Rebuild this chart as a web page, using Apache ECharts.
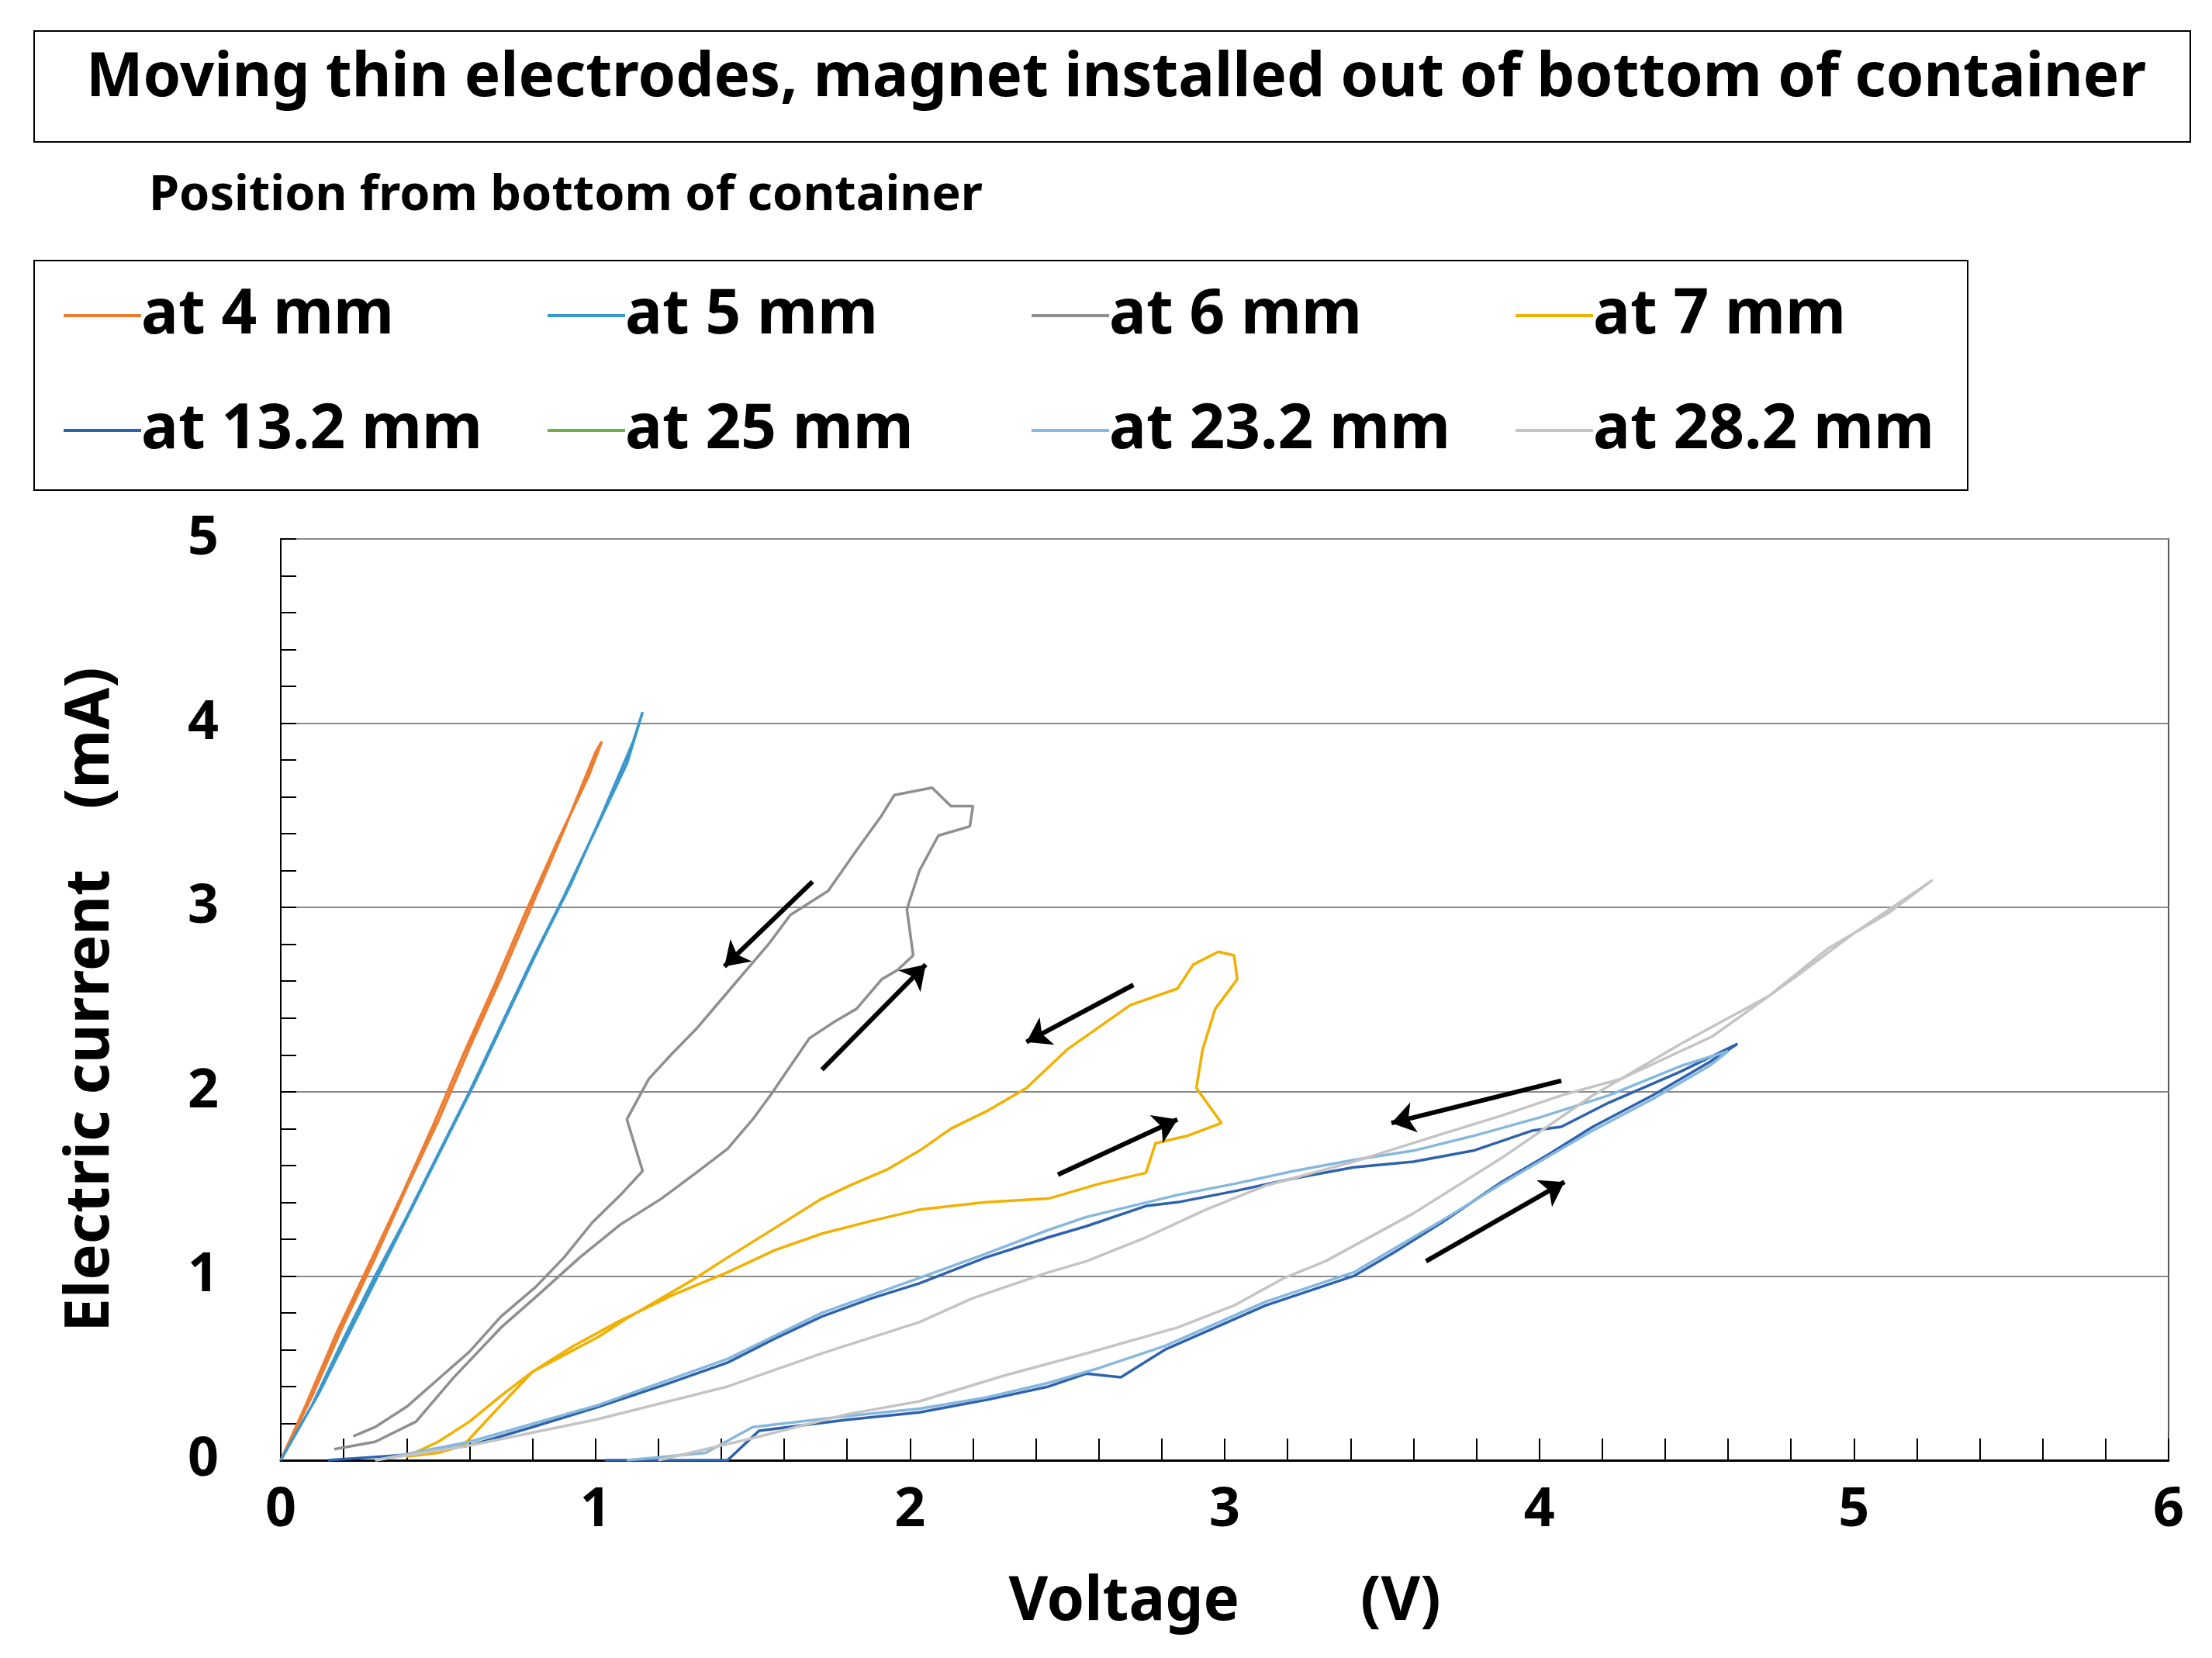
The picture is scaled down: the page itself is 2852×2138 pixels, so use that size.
<!DOCTYPE html>
<html>
<head>
<meta charset="utf-8">
<script src="https://cdn.jsdelivr.net/npm/echarts@6/dist/echarts.min.js"></script>
<style>html,body{margin:0;padding:0;background:#fff}#chart{width:2852px;height:2138px}</style>
</head>
<body>
<div id="chart"></div>
<script>
// series names
var names = ['at 4 mm', 'at 5 mm', 'at 6 mm', 'at 7 mm', 'at 13.2 mm', 'at 25 mm', 'at 23.2 mm', 'at 28.2 mm'];
var colors = ['#ED7D31', '#3B98CC', '#8F8F8F', '#F2B000', '#2E62AE', '#70AD47', '#86B8DE', '#C4C4C4'];

// [voltage V, current mA]
var at4 = [[0,0],[0.1,0.35],[0.2,0.74],[0.3,1.1],[0.4,1.48],[0.5,1.84],[0.6,2.24],[0.7,2.62],[0.8,3.02],[0.9,3.42],[1.0,3.84],[1.02,3.9],
  [0.98,3.72],[0.88,3.36],[0.78,2.98],[0.68,2.58],[0.58,2.2],[0.48,1.8],[0.38,1.42],[0.28,1.06],[0.18,0.7],[0.08,0.3],[0,0]];
var at5 = [[0,0],[0.1,0.3],[0.2,0.66],[0.3,1.0],[0.4,1.32],[0.5,1.66],[0.6,2.0],[0.7,2.36],[0.8,2.72],[0.9,3.06],[1.0,3.42],[1.1,3.78],[1.15,4.06],
  [1.12,3.9],[1.02,3.5],[0.92,3.12],[0.82,2.78],[0.72,2.42],[0.62,2.06],[0.52,1.72],[0.42,1.38],[0.32,1.04],[0.22,0.7],[0.12,0.36],[0,0]];
var at6 = [[0.17,0.06],[0.3,0.1],[0.43,0.21],[0.55,0.45],[0.7,0.72],[0.82,0.9],[0.95,1.1],[1.08,1.28],[1.21,1.42],[1.32,1.56],[1.42,1.69],[1.5,1.85],[1.56,1.99],[1.62,2.14],[1.68,2.29],[1.76,2.38],[1.83,2.45],[1.91,2.61],[1.96,2.66],[2.01,2.74],
  [1.99,2.99],[2.03,3.2],[2.09,3.39],[2.19,3.44],[2.2,3.55],[2.13,3.55],[2.07,3.65],[1.95,3.61],[1.91,3.5],[1.83,3.31],[1.74,3.09],[1.62,2.96],[1.55,2.8],[1.48,2.66],[1.4,2.5],[1.32,2.34],[1.24,2.2],[1.17,2.07],[1.1,1.85],[1.15,1.57],[1.08,1.44],[0.99,1.29],[0.9,1.1],[0.81,0.94],[0.7,0.78],[0.6,0.59],[0.5,0.44],[0.4,0.29],[0.3,0.18],[0.23,0.13]];
var at7 = [[0.4,0.02],[0.5,0.04],[0.58,0.08],[0.7,0.3],[0.8,0.48],[0.93,0.62],[1.07,0.75],[1.25,0.9],[1.42,1.02],[1.57,1.14],[1.72,1.23],[1.88,1.3],[2.03,1.36],[2.24,1.4],[2.44,1.42],[2.6,1.5],[2.75,1.56],[2.78,1.72],[2.88,1.76],[2.99,1.83],
  [2.91,2.02],[2.93,2.23],[2.97,2.45],[3.04,2.61],[3.03,2.74],[2.98,2.76],[2.9,2.69],[2.85,2.56],[2.7,2.47],[2.6,2.35],[2.5,2.23],[2.37,2.02],[2.25,1.9],[2.13,1.8],[2.03,1.68],[1.93,1.58],[1.82,1.5],[1.72,1.42],[1.57,1.26],[1.42,1.1],[1.31,0.98],[1.21,0.88],[1.1,0.77],[1.01,0.67],[0.9,0.57],[0.8,0.48],[0.7,0.35],[0.6,0.21],[0.5,0.1],[0.4,0.02]];
var at13 = [[1.03,0],[1.42,0],[1.52,0.16],[1.8,0.22],[2.03,0.26],[2.25,0.33],[2.44,0.4],[2.56,0.47],[2.67,0.45],[2.81,0.6],[2.97,0.72],[3.13,0.84],[3.27,0.92],[3.41,1.0],[3.55,1.14],[3.69,1.29],[3.88,1.51],[4.03,1.66],[4.17,1.81],[4.36,1.98],[4.54,2.16],[4.63,2.26],
  [4.45,2.11],[4.22,1.94],[4.07,1.81],[3.98,1.79],[3.79,1.68],[3.6,1.62],[3.41,1.59],[3.22,1.53],[3.03,1.46],[2.85,1.4],[2.75,1.38],[2.56,1.27],[2.44,1.21],[2.24,1.1],[2.03,0.96],[1.88,0.88],[1.72,0.78],[1.57,0.66],[1.42,0.53],[1.22,0.41],[1.01,0.29],[0.8,0.18],[0.6,0.08],[0.4,0.03],[0.15,0]];
var at25 = [];
var at23 = [[1.1,0],[1.35,0.04],[1.5,0.18],[1.8,0.24],[2.03,0.28],[2.24,0.34],[2.44,0.42],[2.6,0.5],[2.81,0.62],[3.13,0.86],[3.41,1.02],[3.69,1.3],[3.88,1.5],[4.17,1.79],[4.36,1.96],[4.54,2.14],[4.6,2.22],
  [4.45,2.14],[4.22,1.98],[4.0,1.86],[3.79,1.76],[3.6,1.68],[3.41,1.63],[3.22,1.57],[3.03,1.5],[2.85,1.44],[2.56,1.32],[2.44,1.25],[2.24,1.12],[2.03,0.99],[1.72,0.8],[1.42,0.55],[1.01,0.3],[0.6,0.1],[0.3,0]];
var at28 = [[1.2,0],[1.5,0.12],[1.8,0.25],[2.03,0.32],[2.3,0.46],[2.56,0.58],[2.85,0.72],[3.03,0.84],[3.19,0.99],[3.32,1.08],[3.6,1.34],[3.88,1.64],[4.17,1.98],[4.45,2.26],[4.73,2.52],[4.92,2.78],[5.11,2.97],[5.25,3.15],
  [5.2,3.09],[5.0,2.86],[4.82,2.63],[4.55,2.3],[4.26,2.07],[4.07,1.98],[3.88,1.87],[3.69,1.77],[3.41,1.62],[3.13,1.49],[2.94,1.36],[2.75,1.21],[2.56,1.08],[2.44,1.02],[2.2,0.88],[2.03,0.75],[1.72,0.58],[1.42,0.4],[1.0,0.22],[0.6,0.08],[0.3,0]];
var seriesData = [at4, at5, at6, at7, at13, at25, at23, at28];

// arrows: [from, to] in data units
var arrows = [[[1.69,3.14],[1.41,2.68]],[[1.72,2.12],[2.05,2.69]],[[2.71,2.58],[2.37,2.27]],
  [[2.47,1.55],[2.85,1.85]],[[4.07,2.06],[3.53,1.83]],[[3.64,1.08],[4.08,1.51]]];

var yTicks = ['0', '1', '2', '3', '4', '5'];

var chart = echarts.init(document.getElementById('chart'));
var font = 'Noto Sans';

var series = names.map(function (n, i) {
  return {
    name: n, type: 'line', data: seriesData[i], showSymbol: false, symbol: 'none',
    lineStyle: { color: colors[i], width: 3.5 }, itemStyle: { color: colors[i] }, z: 3
  };
});
series.push({
  type: 'lines', coordinateSystem: 'cartesian2d', z: 5,
  symbol: ['none', 'arrow'], symbolSize: 30,
  lineStyle: { color: '#000', width: 6, opacity: 1 },
  data: arrows.map(function (a) { return { coords: a }; })
});

// one legend per item so the columns line up
var legends = names.map(function (n, i) {
  return {
    left: 77 + (i % 4) * 624, top: i < 4 ? 362 : 510,
    itemWidth: 100, itemHeight: 4, icon: 'rect', data: [n],
    textStyle: { fontFamily: font, fontWeight: 'bold', fontSize: 80, color: '#000', padding: [0, 0, 0, -5] }
  };
});

chart.setOption({
  backgroundColor: '#fff',
  animation: false,
  color: colors,
  title: {
    text: 'Moving thin electrodes, magnet installed out of bottom of container',
    left: 1434, top: 58, textAlign: 'center',
    textStyle: { fontFamily: font, fontWeight: 'bold', fontSize: 78, color: '#000' }
  },
  graphic: [
    { type: 'rect', shape: { x: 44, y: 40, width: 2780, height: 143 }, style: { fill: 'none', stroke: '#000', lineWidth: 2 } },
    { type: 'text', left: 192, top: 222, style: { text: 'Position from bottom of container', fontFamily: font, fontWeight: 'bold', fontSize: 63, fill: '#000' } },
    { type: 'rect', shape: { x: 44, y: 336, width: 2493, height: 296 }, style: { fill: 'none', stroke: '#000', lineWidth: 2 } }
  ],
  legend: legends,
  grid: { left: 362, right: 42 + 14, top: 695, bottom: 255, show: true, borderColor: '#555', borderWidth: 2 },
  xAxis: {
    type: 'value', min: 0, max: 6, interval: 1,
    name: 'Voltage　　(V)', nameLocation: 'middle', nameGap: 145,
    nameTextStyle: { fontFamily: font, fontWeight: 'bold', fontSize: 78, color: '#000' },
    axisLine: { show: true, lineStyle: { color: '#000', width: 3 } },
    axisTick: { show: true, inside: true, length: 28, lineStyle: { color: '#000', width: 2 } },
    minorTick: { show: true, splitNumber: 5, length: 28, lineStyle: { color: '#000', width: 2 } },
    axisLabel: { fontFamily: font, fontWeight: 'bold', fontSize: 70, color: '#000', margin: 30 },
    splitLine: { show: false }
  },
  yAxis: {
    type: 'value', min: 0, max: 5, interval: 1,
    name: 'Electric current　(mA)', nameLocation: 'middle', nameGap: 205, nameRotate: 90,
    nameTextStyle: { fontFamily: font, fontWeight: 'bold', fontSize: 78, color: '#000' },
    axisLine: { show: true, lineStyle: { color: '#000', width: 2 } },
    axisTick: { show: true, inside: true, length: 20, lineStyle: { color: '#000', width: 2 } },
    minorTick: { show: true, splitNumber: 5, length: 20, lineStyle: { color: '#000', width: 2 } },
    axisLabel: { fontFamily: font, fontWeight: 'bold', fontSize: 70, color: '#000', margin: 80,
      formatter: function (v) { return yTicks[v]; } },
    splitLine: { show: true, lineStyle: { color: '#8a8a8a', width: 2 } }
  },
  series: series
});
</script>
</body>
</html>
